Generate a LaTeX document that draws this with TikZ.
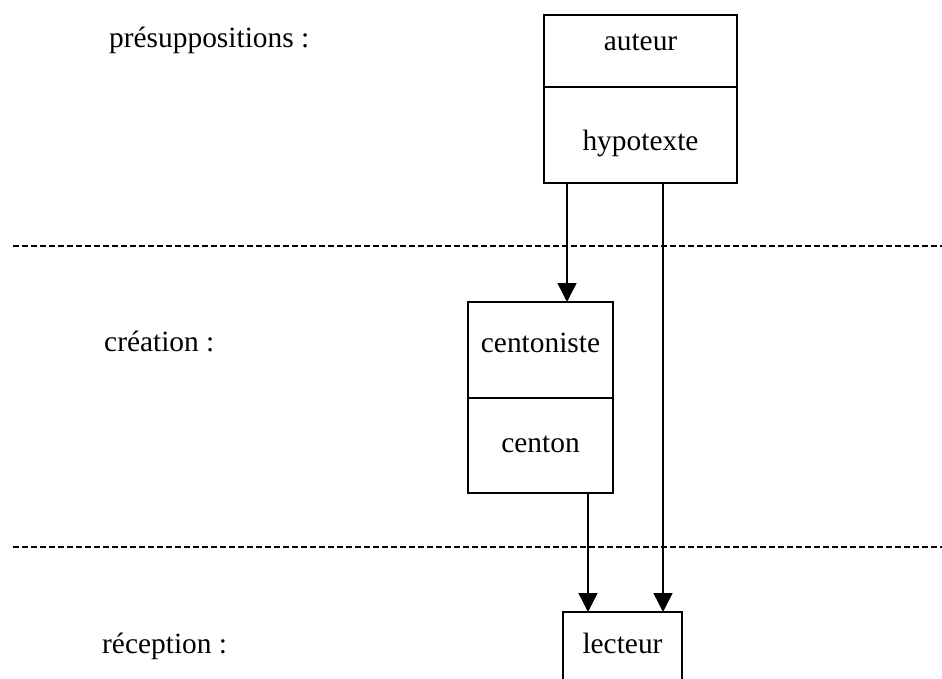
\documentclass[tikz,border=0pt]{standalone}
\usepackage{fontspec}
\setmainfont{Liberation Serif}
\usetikzlibrary{arrows.meta}
\begin{document}
\begin{tikzpicture}[x=1pt,y=-1pt,
  box/.style={draw,line width=1.5pt,rectangle,inner sep=0pt,outer sep=0pt,font=\fontsize{29.4}{35}\selectfont},
  lbl/.style={anchor=base west,inner sep=0pt,font=\fontsize{29.4}{35}\selectfont},
  sepline/.style={line width=1.5pt,dash pattern=on 6pt off 3pt},
  arr/.style={line width=1.5pt,-{Triangle[length=19pt,width=19pt]}}]
\clip (0,0) rectangle (942,679);
\fill[white] (0,0) rectangle (942,679);

% boxes
\node[box,minimum width=193pt,minimum height=72pt,text height=10pt,text depth=10pt] (auteur) at (640.5,51) {auteur};
\node[box,minimum width=193pt,minimum height=96pt,text height=32pt,text depth=0pt] (hypotexte) at (640.5,135) {hypotexte};
\node[box,minimum width=145pt,minimum height=96pt,text height=12pt,text depth=8pt] (centoniste) at (540.5,350) {centoniste};
\node[box,minimum width=145pt,minimum height=95pt,text height=16pt,text depth=3pt] (centon) at (540.5,445.5) {centon};
\node[box,minimum width=119pt,minimum height=76pt,text height=12pt,text depth=6pt] (lecteur) at (622.5,650) {lecteur};

% labels
\node[lbl] (l1) at (109,48) {présuppositions :};
\node[lbl] (l2) at (104,351) {création :};
\node[lbl] (l3) at (102,653) {réception :};

% separators
\coordinate (s1a) at (13,246);
\coordinate (s1b) at (942,246);
\coordinate (s2a) at (13,547);
\coordinate (s2b) at (942,547);
\draw[sepline] (s1a) -- (s1b);
\draw[sepline] (s2a) -- (s2b);

% connectors
\coordinate (a1) at ([xshift=23pt]hypotexte.south west);
\coordinate (a2) at ([xshift=119pt]hypotexte.south west);
\coordinate (a3) at ([xshift=120pt]centon.south west);
\draw[arr] (a1) -- (a1 |- centoniste.north);
\draw[arr] (a2) -- (a2 |- lecteur.north);
\draw[arr] (a3) -- (a3 |- lecteur.north);
\end{tikzpicture}
\end{document}
